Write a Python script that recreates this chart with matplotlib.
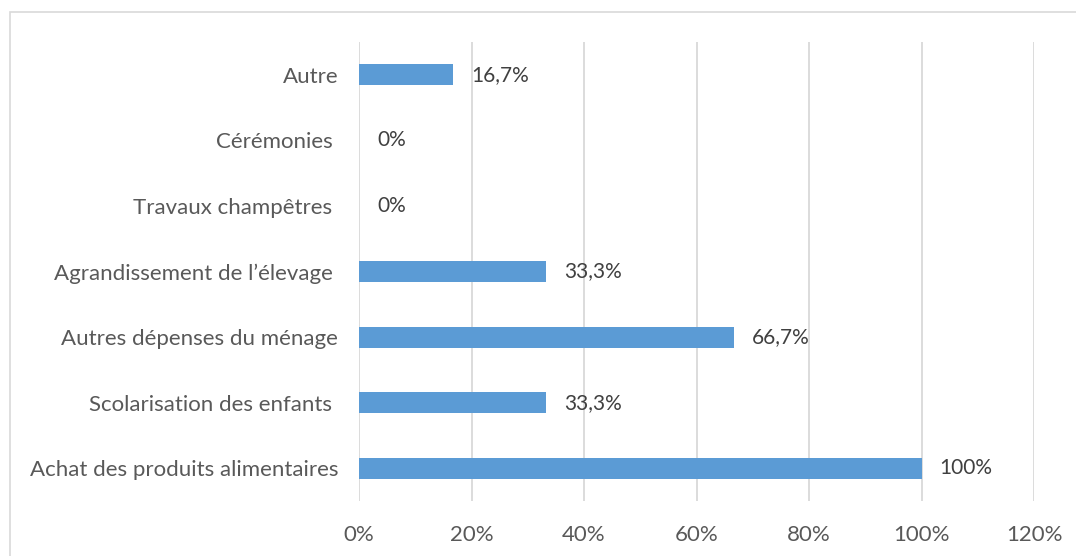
import matplotlib
matplotlib.use("Agg")
import matplotlib.pyplot as plt
from matplotlib.patches import Rectangle

categories = ["Achat des produits alimentaires", "Scolarisation des enfants ",
              "Autres dépenses du ménage", "Agrandissement de l\u2019élevage ",
              "Travaux champêtres ", "Cérémonies ", "Autre"]
values = [1.0, 0.333, 0.667, 0.333, 0.0, 0.0, 0.167]
value_labels = ["100%", "33,3%", "66,7%", "33,3%", "0%", "0%", "16,7%"]
xticks = [0, 0.2, 0.4, 0.6, 0.8, 1.0, 1.2]
xtick_labels = ["0%", "20%", "40%", "60%", "80%", "100%", "120%"]

plt.rcParams['font.family'] = ['Lato', 'DejaVu Sans']
W, H = 1076, 556
fig = plt.figure(figsize=(W/100, H/100), dpi=100)
fig.patch.set_facecolor("white")

# outer chart border
fig.add_artist(Rectangle((10/W, -0.1), 1.2, 1.1 - 12/H, transform=fig.transFigure,
                         fill=False, edgecolor="#D9D9D9", linewidth=1.2))

left, right = 359/W, 1034/W
top, bottom = 1 - 42/H, 1 - 501/H
ax = fig.add_axes([left, bottom, right - left, top - bottom])

y = list(range(len(categories)))
ax.barh(y, values, height=0.32, color="#5B9BD5", zorder=3)
ax.set_xlim(0, 1.2)
ax.set_ylim(-0.5, len(categories) - 0.5)
ax.set_xticks(xticks)
ax.set_xticklabels(xtick_labels)
ax.set_yticks(y)
ax.set_yticklabels(categories)
ax.grid(axis="x", color="#D9D9D9", linewidth=1.3, zorder=0)
ax.grid(axis="y", visible=False)
for s in ax.spines.values():
    s.set_visible(False)
ax.tick_params(axis="both", length=0, labelsize=16, colors="#595959")
ax.tick_params(axis="x", pad=17)
ax.tick_params(axis="y", pad=15)

for yi, v, lab in zip(y, values, value_labels):
    ax.annotate(lab, (v, yi), xytext=(13, 0), textcoords="offset points",
                ha="left", va="center", fontsize=15, color="#404040")

fig.savefig("out.png", dpi=100)
